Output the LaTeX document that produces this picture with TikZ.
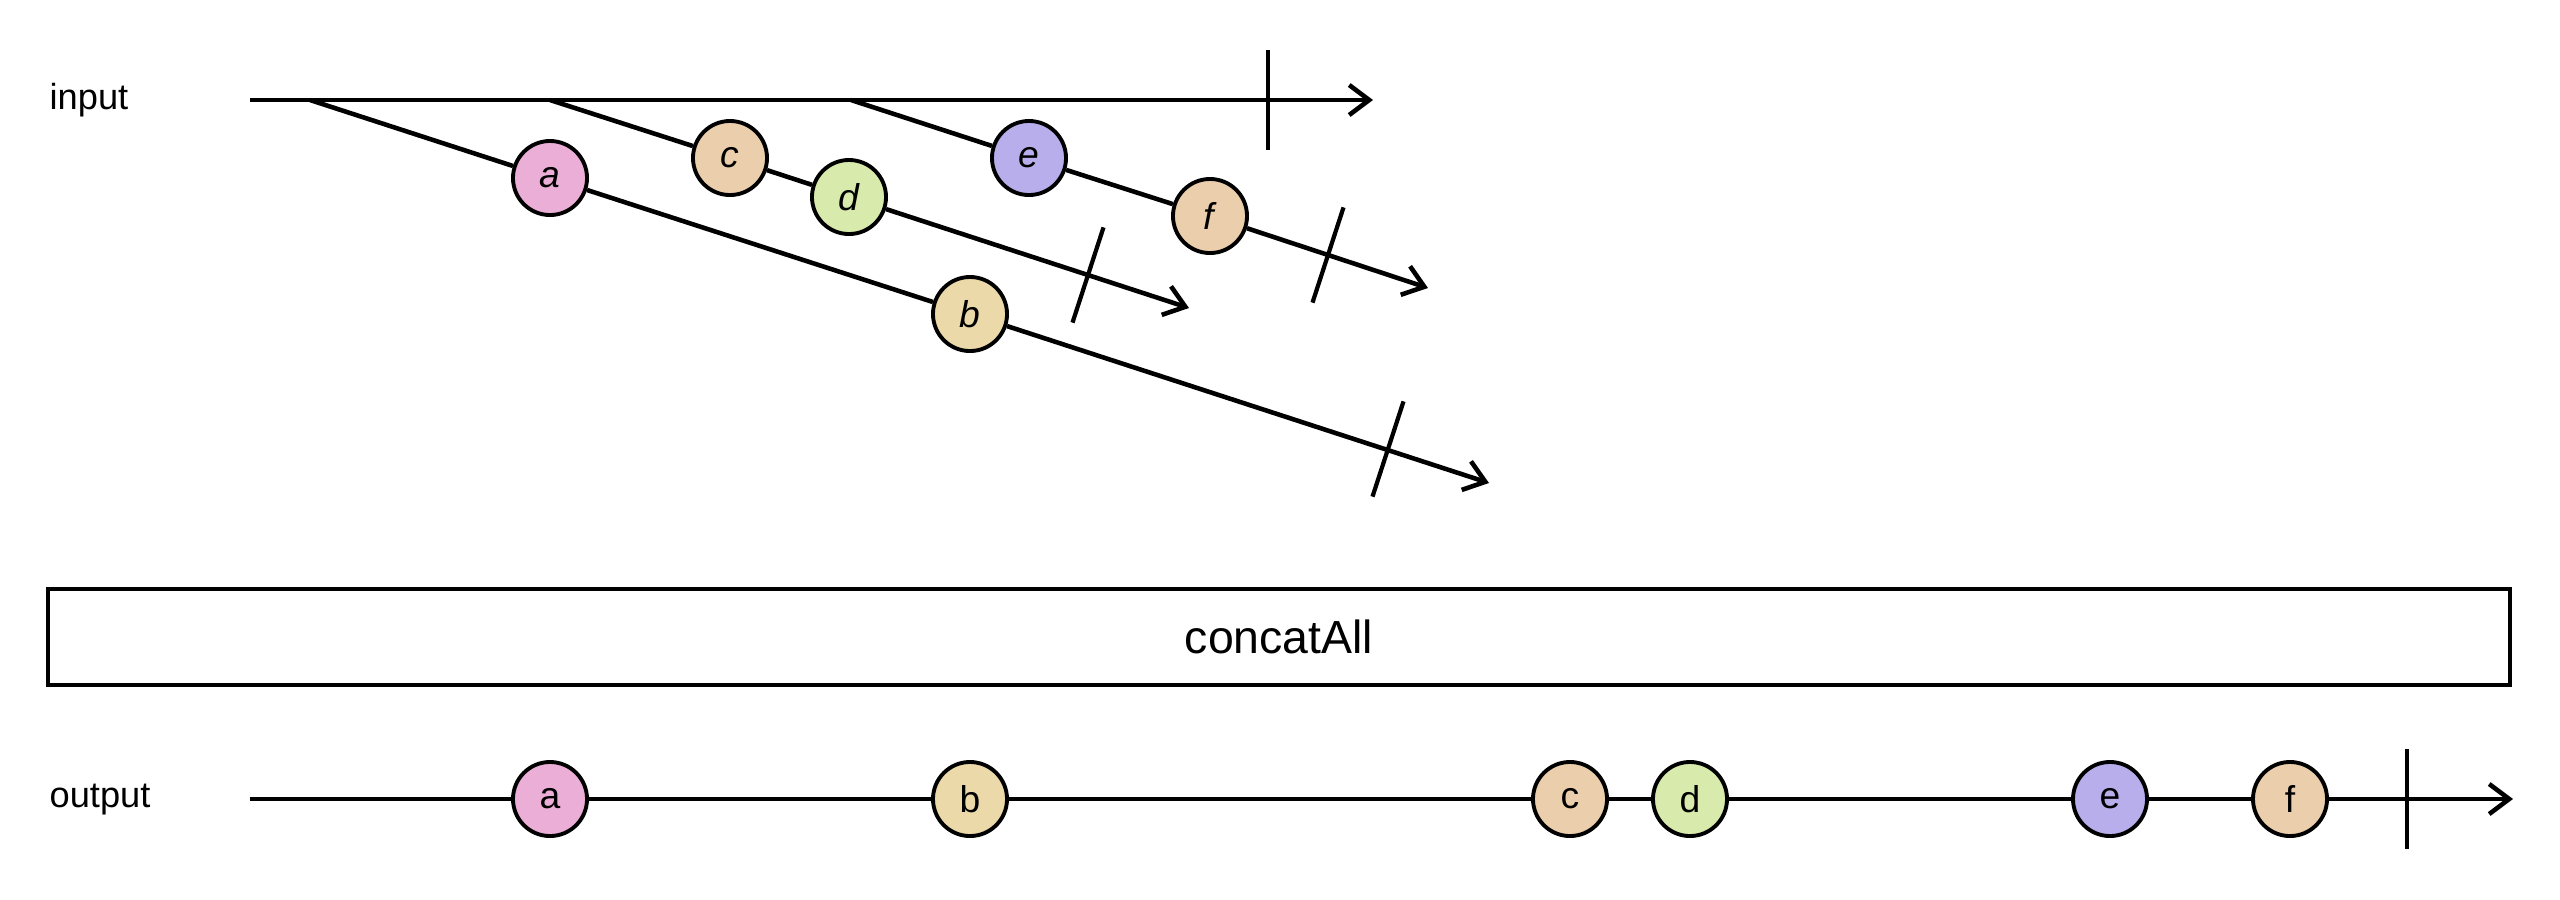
\documentclass[tikz,border=0pt]{standalone}
\usepackage{fontspec}
\setmainfont{Liberation Sans}
\usetikzlibrary{arrows.meta}

\definecolor{mpink}{RGB}{235,174,214}
\definecolor{msand}{RGB}{235,217,169}
\definecolor{mpeach}{RGB}{235,207,173}
\definecolor{mlime}{RGB}{217,235,172}
\definecolor{mlilac}{RGB}{184,174,235}

\tikzset{
  stream/.style={line width=1.3pt, line cap=butt},
  flow/.style={stream, -{Straight Barb[length=0.2cm, width=0.3cm, line width=1.3pt]}},
  endtick/.style={line width=1.2pt},
  marble/.style={circle, draw, line width=1.1pt, minimum size=0.74cm, inner sep=0pt,
                 font=\fontsize{10.6}{12}\selectfont},
  lane/.style={anchor=base west, inner sep=0pt, font=\fontsize{10.3}{12}\selectfont},
  opbox/.style={draw, line width=1.05pt, minimum width=24.6cm, minimum height=0.96cm,
                inner sep=0pt, font=\fontsize{13.2}{15}\selectfont}
}

\begin{document}
\begin{tikzpicture}[x=0.01cm, y=-0.01cm]
  \useasboundingbox (0,0) rectangle (2560,899);

  % ---- outer (higher-order) source ----
  \node[lane] (lin) at (49,109) {input};
  \coordinate (in0) at (250,100);
  \coordinate (in1) at (1373,100);
  \coordinate (s1) at (310,100);
  \coordinate (s2) at (550,100);
  \coordinate (s3) at (851,100);
  \draw[flow] (in0) -- (in1);
  \coordinate (tin) at (1268,100);
  \draw[endtick] (tin) ++(0,-50) -- ++(0,100);

  % ---- inner stream 1: a, b ----
  \node[marble, fill=mpink] (ia) at (550,178) {\textit{a}};
  \node[marble, fill=msand] (ib) at (970,314) {\textit{b}};
  \coordinate (t1) at (1388,449);
  \coordinate (e1) at (1489,483);
  \draw[stream] (s1) -- (ia);
  \draw[stream] (ia) -- (ib);
  \draw[flow] (ib) -- (e1);
  \draw[endtick] (t1) ++(15.5,-47.6) -- ++(-31,95.2);

  % ---- inner stream 2: c, d ----
  \node[marble, fill=mpeach] (ic) at (730,158) {\textit{c}};
  \node[marble, fill=mlime] (id) at (849,197) {\textit{d}};
  \coordinate (t2) at (1088,275);
  \coordinate (e2) at (1189,308);
  \draw[stream] (s2) -- (ic);
  \draw[stream] (ic) -- (id);
  \draw[flow] (id) -- (e2);
  \draw[endtick] (t2) ++(15.5,-47.6) -- ++(-31,95.2);

  % ---- inner stream 3: e, f ----
  \node[marble, fill=mlilac] (ie) at (1029,158) {\textit{e}};
  \node[marble, fill=mpeach] (if) at (1210,216) {\textit{f}};
  \coordinate (t3) at (1328,255);
  \coordinate (e3) at (1428,288);
  \draw[stream] (s3) -- (ie);
  \draw[stream] (ie) -- (if);
  \draw[flow] (if) -- (e3);
  \draw[endtick] (t3) ++(15.5,-47.6) -- ++(-31,95.2);

  % ---- operator ----
  \node[opbox] (op) at (1279,637) {concatAll};

  % ---- flattened result ----
  \node[lane] (lout) at (49,807) {output};
  \coordinate (out0) at (250,799);
  \coordinate (out1) at (2513,799);
  \draw[flow] (out0) -- (out1);
  \node[marble, fill=mpink] (oa) at (550,799) {a};
  \node[marble, fill=msand] (ob) at (970,799) {b};
  \node[marble, fill=mpeach] (oc) at (1570,799) {c};
  \node[marble, fill=mlime] (od) at (1690,799) {d};
  \node[marble, fill=mlilac] (oe) at (2110,799) {e};
  \node[marble, fill=mpeach] (of) at (2290,799) {f};
  \coordinate (tout) at (2407,799);
  \draw[endtick] (tout) ++(0,-50) -- ++(0,100);
\end{tikzpicture}
\end{document}
